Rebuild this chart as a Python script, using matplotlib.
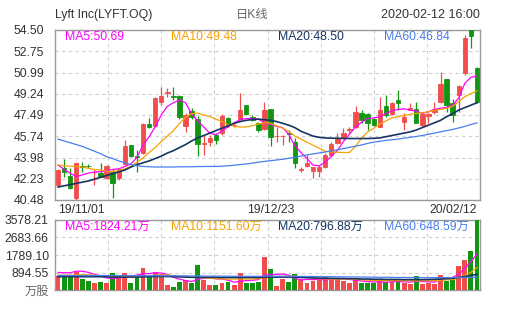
import matplotlib
matplotlib.use('Agg')
import matplotlib.pyplot as plt
import numpy as np

plt.rcParams['font.family'] = ['Liberation Sans', 'Noto Sans CJK SC']

# daily candles, 19/11/01 .. 20/02/12 (70 sessions)
opens = [41.72, 43.09, 42.46, 40.62, 43.31, 43.32, 42.78, 42.73, 42.27, 42.81,
         42.27, 43.45, 44.99, 44.08, 44.33, 46.72, 46.58, 48.59, 49.30, 49.03,
         49.06, 46.58, 47.85, 47.14, 45.10, 45.29, 45.84, 45.98, 47.22, 46.65,
         47.14, 48.31, 47.30, 46.80, 46.31, 47.96, 45.74, 45.74, 46.00, 45.29,
         42.98, 43.29, 42.90, 42.90, 43.23, 44.19, 45.20, 45.57, 46.29, 46.48,
         47.63, 47.55, 47.14, 46.53, 48.23, 47.57, 48.72, 46.94, 47.90, 47.96,
         46.67, 47.40, 47.76, 48.59, 50.43, 48.45, 49.14, 50.93, 54.50, 51.34]
highs = [43.00, 43.86, 43.09, 43.64, 43.64, 43.45, 43.00, 43.50, 43.40, 43.06,
         43.06, 45.42, 45.00, 44.60, 46.80, 47.22, 48.95, 49.80, 49.75, 49.80,
         49.15, 47.66, 48.05, 47.40, 45.80, 45.84, 45.98, 47.58, 47.35, 46.95,
         49.33, 48.31, 47.50, 46.95, 48.59, 48.00, 46.53, 45.84, 46.25, 45.60,
         43.23, 44.20, 43.23, 43.37, 44.33, 45.29, 45.98, 46.40, 46.48, 48.20,
         47.90, 47.63, 47.22, 49.00, 49.10, 48.59, 49.54, 47.63, 48.45, 48.59,
         47.76, 47.68, 48.59, 51.06, 50.50, 48.78, 49.96, 54.10, 54.50, 51.42]
lows = [41.65, 42.38, 41.36, 40.48, 42.81, 43.10, 41.75, 42.40, 42.20, 40.65,
        42.10, 43.40, 44.05, 42.81, 44.25, 46.40, 46.50, 48.30, 48.95, 48.73,
        47.20, 46.10, 47.20, 44.10, 44.20, 44.90, 45.10, 45.84, 46.53, 46.53,
        47.08, 47.50, 47.00, 46.10, 46.25, 44.90, 45.29, 45.02, 45.29, 43.10,
        42.81, 43.20, 42.30, 42.40, 43.10, 44.05, 45.10, 45.50, 45.98, 46.40,
        46.80, 46.25, 46.60, 46.48, 47.35, 47.49, 47.90, 46.25, 47.90, 46.80,
        46.53, 46.80, 47.60, 48.50, 47.76, 46.94, 47.76, 50.80, 52.99, 48.50]
closes = [42.95, 42.81, 41.44, 43.56, 43.23, 43.25, 42.83, 42.40, 43.31, 41.91,
          43.00, 44.93, 44.11, 44.02, 46.72, 46.53, 48.87, 49.06, 49.36, 48.98,
          47.35, 47.49, 47.35, 45.10, 45.20, 45.57, 45.43, 47.41, 46.67, 46.70,
          47.90, 47.57, 47.08, 46.25, 47.90, 45.65, 45.78, 45.78, 45.96, 43.56,
          43.02, 43.56, 43.18, 43.18, 44.19, 45.10, 45.57, 45.98, 46.33, 47.76,
          47.08, 46.86, 46.67, 47.90, 47.49, 48.50, 48.50, 47.35, 48.04, 46.86,
          47.57, 47.57, 47.96, 50.05, 48.31, 47.49, 49.88, 53.82, 54.00, 48.59]

ma5 = [43.37, 43.00, 42.70, 42.40, 42.55, 42.70, 42.78, 42.82, 42.90, 43.00,
       43.05, 43.25, 43.45, 44.00, 45.00, 45.70, 46.50, 47.50, 48.20, 48.50,
       48.73, 48.50, 47.60, 47.00, 46.50, 46.00, 45.85, 46.20, 46.50, 46.85,
       47.10, 47.20, 47.20, 47.15, 46.85, 46.70, 46.55, 46.45, 45.90, 44.95,
       44.40, 43.90, 43.35, 43.30, 43.60, 44.10, 44.55, 45.30, 45.90, 46.50,
       46.90, 47.20, 47.25, 47.35, 47.60, 47.85, 47.95, 48.00, 47.90, 47.80,
       47.63, 47.75, 47.95, 48.05, 48.12, 48.30, 48.90, 50.10, 50.60, 50.69]
ma10 = [43.37, 43.30, 43.27, 43.24, 43.20, 43.10, 43.00, 42.95, 42.85, 42.82,
        42.92, 43.05, 43.25, 43.60, 43.95, 44.40, 44.80, 45.30, 45.75, 46.20,
        46.80, 47.30, 47.60, 47.65, 47.50, 47.35, 47.15, 46.95, 46.70, 46.55,
        46.50, 46.50, 46.60, 46.75, 46.85, 46.80, 46.60, 46.40, 46.15, 45.75,
        45.50, 45.25, 45.00, 44.75, 44.50, 44.45, 44.42, 44.40, 44.40, 44.90,
        45.60, 46.10, 46.40, 46.75, 47.00, 47.25, 47.35, 47.45, 47.55, 47.62,
        47.68, 47.75, 47.88, 47.95, 48.05, 48.20, 48.60, 49.00, 49.25, 49.48]
ma20 = [41.55, 41.65, 41.75, 41.85, 41.95, 42.05, 42.20, 42.35, 42.50, 42.65,
        42.80, 42.95, 43.20, 43.40, 43.55, 43.70, 43.90, 44.10, 44.35, 44.55,
        44.80, 45.05, 45.35, 45.60, 45.80, 46.00, 46.20, 46.40, 46.60, 46.80,
        46.95, 47.05, 47.12, 47.15, 47.10, 47.05, 46.95, 46.80, 46.65, 46.45,
        46.15, 45.95, 45.75, 45.65, 45.60, 45.58, 45.57, 45.56, 45.55, 45.55,
        45.55, 45.55, 45.57, 45.60, 45.70, 45.80, 45.90, 46.00, 46.10, 46.25,
        46.45, 46.65, 46.85, 47.05, 47.35, 47.60, 47.90, 48.10, 48.30, 48.50]
ma60 = [45.50, 45.35, 45.20, 45.05, 44.90, 44.70, 44.50, 44.30, 44.05, 43.90,
        43.70, 43.55, 43.40, 43.30, 43.25, 43.22, 43.20, 43.20, 43.20, 43.20,
        43.22, 43.22, 43.22, 43.24, 43.24, 43.25, 43.25, 43.27, 43.30, 43.35,
        43.40, 43.45, 43.52, 43.60, 43.66, 43.72, 43.78, 43.84, 43.92, 44.00,
        44.10, 44.20, 44.28, 44.36, 44.44, 44.52, 44.62, 44.72, 44.82, 44.92,
        45.02, 45.15, 45.25, 45.32, 45.40, 45.45, 45.50, 45.58, 45.65, 45.72,
        45.80, 45.90, 46.00, 46.10, 46.20, 46.30, 46.42, 46.55, 46.70, 46.84]

# volume, 万股
volume = [715, 647, 647, 937, 562, 477, 341, 426, 375, 852,
          766, 852, 375, 647, 1107, 647, 937, 818, 256, 136,
          426, 511, 341, 1278, 511, 256, 256, 375, 426, 256,
          886, 375, 375, 426, 1670, 1056, 204, 545, 426, 818,
          545, 375, 477, 511, 647, 596, 545, 477, 375, 545,
          341, 341, 341, 545, 426, 426, 426, 375, 307, 715,
          307, 375, 307, 766, 477, 647, 1226, 1533, 2010, 3578]
vma5 = [900, 880, 880, 960, 960, 900, 800, 720, 620, 580,
        620, 700, 720, 760, 840, 840, 880, 870, 800, 650,
        560, 480, 430, 540, 600, 620, 570, 560, 500, 400,
        440, 480, 500, 530, 740, 800, 800, 820, 760, 600,
        510, 540, 530, 550, 510, 560, 570, 560, 540, 500,
        460, 430, 410, 420, 400, 420, 430, 420, 400, 450,
        430, 420, 400, 560, 600, 650, 800, 1100, 1450, 1824]
vma10 = [760, 760, 760, 770, 780, 780, 760, 740, 720, 700,
         700, 700, 690, 680, 700, 720, 740, 760, 760, 740,
         720, 680, 650, 640, 620, 600, 580, 560, 560, 560,
         560, 560, 560, 580, 620, 660, 680, 700, 700, 700,
         680, 640, 600, 580, 570, 560, 560, 560, 560, 540,
         520, 500, 490, 480, 480, 480, 480, 470, 470, 470,
         470, 470, 480, 500, 520, 540, 620, 760, 900, 1152]
vma20 = [680, 680, 680, 680, 680, 680, 680, 680, 670, 660,
         660, 660, 660, 660, 670, 680, 690, 690, 690, 680,
         670, 660, 650, 650, 650, 650, 650, 640, 640, 640,
         640, 640, 640, 640, 650, 660, 660, 660, 660, 660,
         640, 630, 620, 610, 600, 600, 590, 590, 580, 580,
         560, 560, 550, 550, 540, 540, 540, 530, 530, 530,
         530, 540, 550, 560, 580, 600, 640, 690, 740, 797]
vma60 = [740, 740, 740, 740, 740, 740, 740, 740, 740, 740,
         735, 735, 735, 730, 730, 730, 730, 725, 725, 725,
         720, 720, 715, 715, 715, 710, 710, 705, 705, 700,
         700, 700, 700, 700, 705, 705, 705, 700, 700, 700,
         695, 690, 690, 685, 680, 680, 675, 670, 670, 665,
         660, 660, 655, 650, 650, 645, 640, 640, 635, 635,
         630, 630, 630, 630, 632, 635, 638, 640, 645, 649]

price_ticks = [40.48, 42.23, 43.98, 45.74, 47.49, 49.24, 50.99, 52.75, 54.50]
vol_ticks = [0, 894.55, 1789.10, 2683.66, 3578.21]
vol_labels = ['万股', '894.55', '1789.10', '2683.66', '3578.21']
date_idx = [0, 35, 69]
date_labels = ['19/11/01', '19/12/23', '20/02/12']

ma_labels = ['MA5:50.69', 'MA10:49.48', 'MA20:48.50', 'MA60:46.84']
vma_labels = ['MA5:1824.21万', 'MA10:1151.60万', 'MA20:796.88万', 'MA60:648.59万']

RED = '#f24d4d'
GREEN = '#129612'
MA_COLORS = ['#ff00ff', '#f5a300', '#163563', '#4a7cf0']
GRID = '#cfcfcf'
FRAME = '#999999'
TXT = '#333333'
FS = 8.8

x = np.arange(len(closes))
o = np.array(opens)
c = np.array(closes)
up = c >= o
colors = np.where(up, RED, GREEN)

fig = plt.figure(figsize=(5.05, 3.10), dpi=100)
ax = fig.add_axes([55 / 505, 1 - 200 / 310, 425 / 505, 170 / 310])
axv = fig.add_axes([55 / 505, 1 - 290 / 310, 425 / 505, 70 / 310])

# candles
ax.vlines(x, lows, highs, colors=colors, linewidth=0.9, zorder=3)
ax.bar(x, np.abs(c - o), bottom=np.minimum(o, c), width=0.72,
       color=colors, edgecolor=colors, linewidth=0.6, zorder=4)
for vals, col, lw in zip([ma5, ma10, ma20, ma60], MA_COLORS, [0.9, 0.9, 1.2, 0.9]):
    ax.plot(x, vals, color=col, linewidth=lw, zorder=5)

# volume
axv.bar(x, volume, width=0.8, color=colors, linewidth=0, zorder=3)
for vals, col, lw in zip([vma5, vma10, vma20, vma60], MA_COLORS, [0.9, 0.9, 1.2, 0.9]):
    axv.plot(x, vals, color=col, linewidth=lw, zorder=4)

n = len(closes)
for a in (ax, axv):
    a.set_xlim(-0.5, n - 0.5)
    a.set_xticks(np.linspace(-0.5, n - 0.5, 9)[1:-1], minor=True)
    a.grid(True, which='minor', axis='x', color=GRID, linestyle=(0, (3, 3)), linewidth=0.8)
    a.grid(True, which='major', axis='y', color=GRID, linestyle=(0, (3, 3)), linewidth=0.8)
    a.set_axisbelow(True)
    a.tick_params(which='both', length=0, labelsize=FS, labelcolor=TXT)
    for s in a.spines.values():
        s.set_color(FRAME)
        s.set_linewidth(1.0)

ax.set_ylim(price_ticks[0], price_ticks[-1])
ax.set_yticks(price_ticks)
ax.set_yticklabels(['%.2f' % t for t in price_ticks])
ax.tick_params(axis='y', pad=8)
ax.set_xticks(date_idx)
ax.set_xticklabels(date_labels)
ax.tick_params(axis='x', pad=3)
xl = ax.get_xticklabels()
xl[0].set_ha('left')
xl[-1].set_ha('right')

axv.set_ylim(vol_ticks[0], vol_ticks[-1])
axv.set_yticks(vol_ticks)
axv.set_yticklabels(vol_labels)
axv.tick_params(axis='y', pad=4.5)
axv.set_xticks([])
axv.get_yticklabels()[0].set_color('#666666')

# header
fig.text(55 / 505, 1 - 15 / 310, 'Lyft Inc(LYFT.OQ)', fontsize=8.8, color=TXT, va='center', ha='left')
fig.text(252 / 505, 1 - 15 / 310, '日K线', fontsize=8.8, color='#666666', va='center', ha='center')
fig.text(480 / 505, 1 - 15 / 310, '2020-02-12 16:00', fontsize=9.0, color=TXT, va='center', ha='right')

# MA legends
for k, (lab, col) in enumerate(zip(ma_labels, MA_COLORS)):
    fig.text((65 + k * 106.3) / 505, 1 - 37 / 310, lab, fontsize=FS, color=col, va='center', ha='left')
for k, (lab, col) in enumerate(zip(vma_labels, MA_COLORS)):
    fig.text((65 + k * 106.3) / 505, 1 - 227 / 310, lab, fontsize=FS, color=col, va='center', ha='left')

fig.savefig('out.png', dpi=100)
